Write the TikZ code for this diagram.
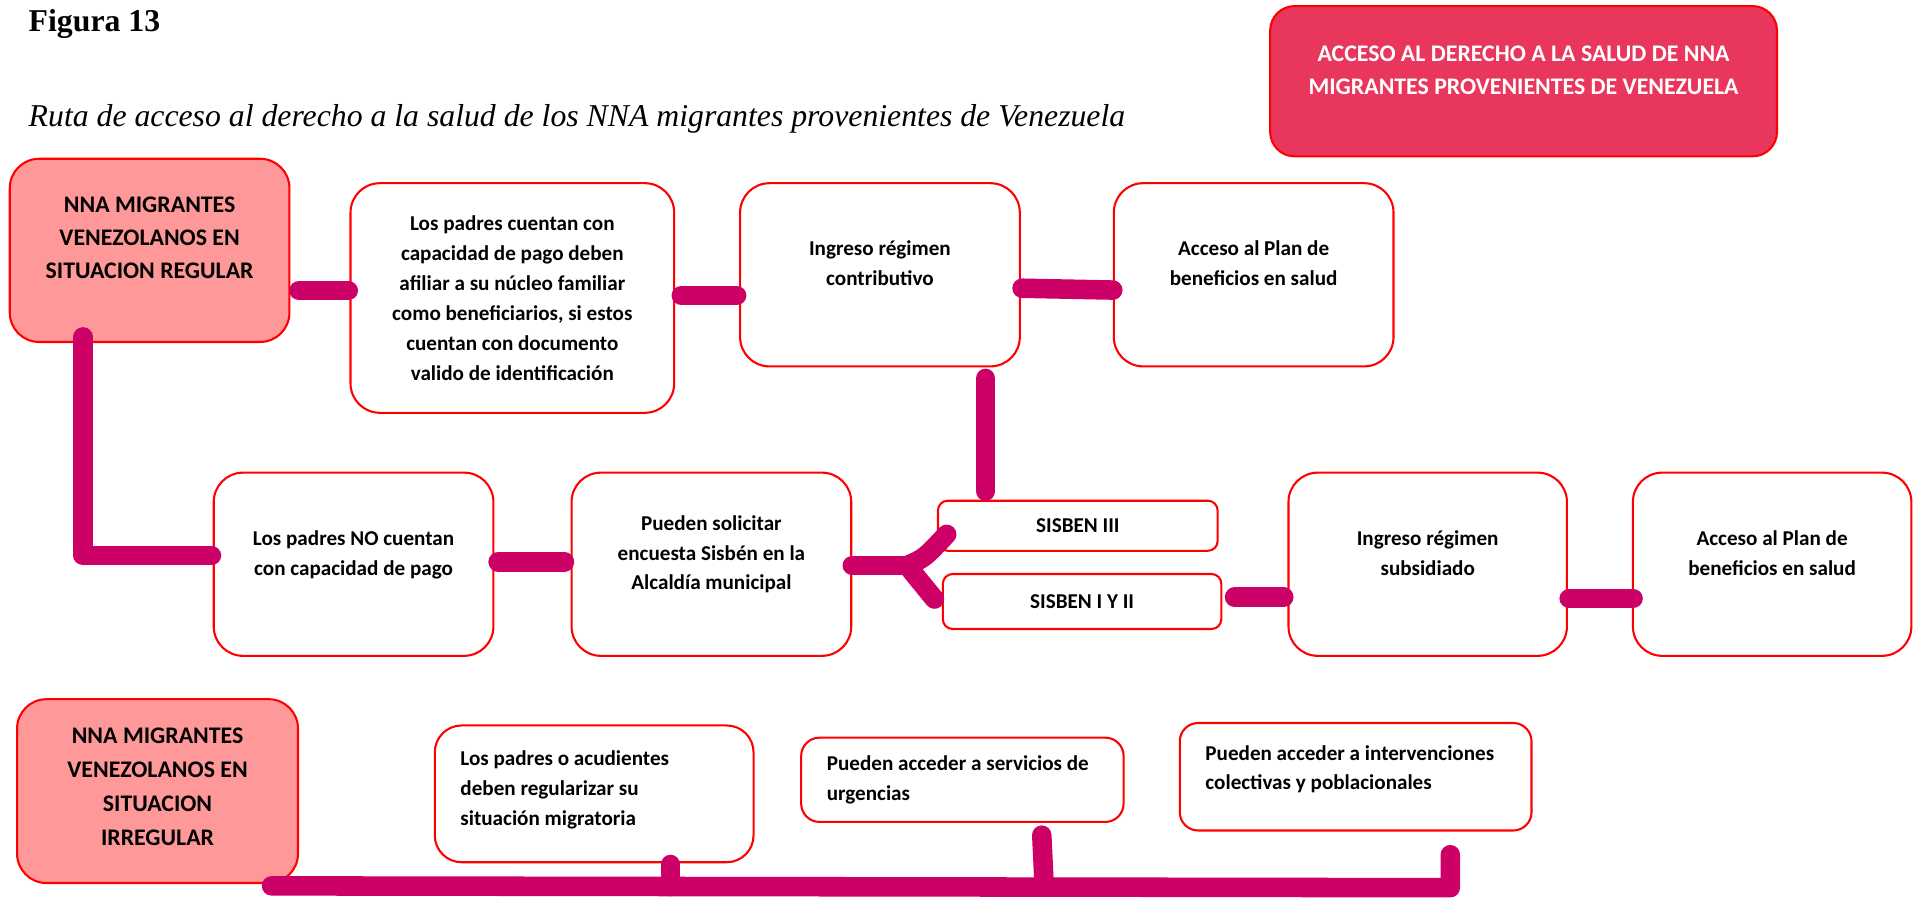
\documentclass[tikz,border=0pt]{standalone}
\usepackage{fontspec}
\setmainfont{Carlito}
\newfontfamily\tnr{Liberation Serif}
\usetikzlibrary{calc}
\definecolor{connc}{RGB}{204,0,102}
\definecolor{salmon}{RGB}{255,153,153}
\definecolor{hdrfill}{RGB}{233,54,93}
\begin{document}
\begin{tikzpicture}[x=1pt,y=-1pt,
  box/.style={draw=red, line width=1.7pt, rounded corners=24pt, fill=white, align=center,
    inner sep=0pt, font=\bfseries\fontsize{17.3}{24.5}\selectfont},
  hdr/.style={box, fill=salmon, font=\bfseries\fontsize{19.5}{27}\selectfont},
  lbox/.style={box, align=flush left, inner xsep=21pt, inner ysep=0pt},
  lnk/.style={draw=connc, line width=16pt, line cap=round, line join=round}]
\useasboundingbox (0,0) rectangle (1568,735);

% headings
\node[anchor=west, font=\tnr\bfseries\fontsize{26}{30}\selectfont] (fig) at (20,20) {Figura 13};
\node[anchor=west, font=\tnr\itshape\fontsize{26}{30}\selectfont] (sub) at (20,97)
  {Ruta de acceso al derecho a la salud de los NNA migrantes provenientes de Venezuela};
\node[box, fill=hdrfill, text=white, rounded corners=20pt, minimum width=415pt, minimum height=123pt,
  font=\bfseries\fontsize{19.5}{27}\selectfont] (T) at (1247.5,66.5)
  {ACCESO AL DERECHO A LA SALUD DE NNA\\MIGRANTES PROVENIENTES DE VENEZUELA\\[-9pt]};

% row 1
\node[hdr, minimum width=229pt, minimum height=150pt] (A) at (122.5,205)
  {NNA MIGRANTES\\VENEZOLANOS EN\\SITUACION REGULAR\\[-7pt]};
\node[box, minimum width=265pt, minimum height=188pt] (B) at (419.5,244)
  {Los padres cuentan con\\capacidad de pago deben\\afiliar a su núcleo familiar\\como beneficiarios, si estos\\cuentan con documento\\valido de identificación};
\node[box, minimum width=229pt, minimum height=150pt] (C) at (720.5,225)
  {Ingreso régimen\\contributivo\\[-6pt]};
\node[box, minimum width=229pt, minimum height=150pt] (D) at (1026.5,225)
  {Acceso al Plan de\\beneficios en salud\\[-6pt]};

% row 2
\node[box, minimum width=229pt, minimum height=150pt] (E) at (289.5,462)
  {Los padres NO cuentan\\con capacidad de pago\\[-5.5pt]};
\node[box, minimum width=229pt, minimum height=150pt] (F) at (582.5,462)
  {Pueden solicitar\\encuesta Sisbén en la\\Alcaldía municipal\\[-5.5pt]};
\node[box, rounded corners=8pt, minimum width=229pt, minimum height=41pt] (S3) at (882.5,430.5) {SISBEN III};
\node[box, rounded corners=8pt, minimum width=228pt, minimum height=45pt] (S12) at (886,492.5) {SISBEN I Y II};
\node[box, minimum width=228pt, minimum height=150pt] (G) at (1169,462)
  {Ingreso régimen\\subsidiado\\[-5.5pt]};
\node[box, minimum width=228pt, minimum height=150pt] (H) at (1451,462)
  {Acceso al Plan de\\beneficios en salud\\[-5.5pt]};

% row 3
\node[hdr, rounded corners=24pt, minimum width=230pt, minimum height=150.5pt,
  font=\bfseries\fontsize{19.5}{27.8}\selectfont] (I) at (129,647.75)
  {NNA MIGRANTES\\VENEZOLANOS EN\\SITUACION\\IRREGULAR\\[-20.4pt]};
\node[lbox, rounded corners=22pt, text width=219pt, minimum height=112pt] (J) at (486.5,650)
  {Los padres o acudientes\\deben regularizar su\\situación migratoria\\[-14.5pt]\mbox{}};
\node[lbox, rounded corners=15pt, text width=222pt, minimum height=69pt] (K) at (788,638.5)
  {Pueden acceder a servicios de\\urgencias};
\node[lbox, rounded corners=15pt, text width=246pt, minimum height=88pt] (L) at (1110,636)
  {Pueden acceder a intervenciones\\colectivas y poblacionales\\[-9.5pt]\mbox{}};

% connectors row 1
\draw[lnk] ($(A.east)+(7,33)$) -- ($(B.west)+(-1,-6)$);
\draw[lnk] ($(B.east)+(5,-2)$) -- ($(C.west)+(-2,17)$);
\draw[lnk] ($(C.east)+(1,11)$) -- ($(D.west)+(0,12.5)$);
\draw[lnk] ($(C.south)+(86.5,9)$) -- ($(S3.north)+(-75.5,-7)$);

% connectors row 2
\draw[lnk] ($(A.south)+(-54.5,-5)$) |- ($(E.west)+(-1,-7)$);
\draw[lnk] ($(E.east)+(3,-2)$) -- ($(F.west)+(-5,-2)$);
\coordinate (jy) at ($(F.east)+(45,1)$);
\draw[lnk] ($(F.east)+(0,1)$) -- (jy);
\draw[lnk] (jy) .. controls ($(jy)+(14,-6)$) .. ($(S3.west)+(8,7)$);
\draw[lnk] (jy) .. controls ($(jy)+(8,10)$) .. ($(S12.west)+(-6,-2)$);
\draw[lnk] ($(S12.east)+(10,-3.5)$) -- ($(G.west)+(-3,27)$);
\draw[lnk] ($(G.east)+(1,28)$) -- ($(H.west)+(1,28)$);

% bottom bar
\coordinate (bl) at ($(I.south east)+(-22.5,1.5)$);
\coordinate (ls) at ($(L.south)+(77.5,19)$);
\coordinate (js) at ($(J.south)+(62.5,1)$);
\coordinate (ks) at ($(K.south)+(65,10)$);
\coordinate (br) at ($(ls)+(0,27)$);
\draw[lnk] (bl) -- (br) -- (ls);
\draw[lnk] (js) -- ($(js |- br)+(0,-1)$);
\draw[lnk] (ks) -- ($(ks |- br)+(2,-0.5)$);
\end{tikzpicture}
\end{document}
